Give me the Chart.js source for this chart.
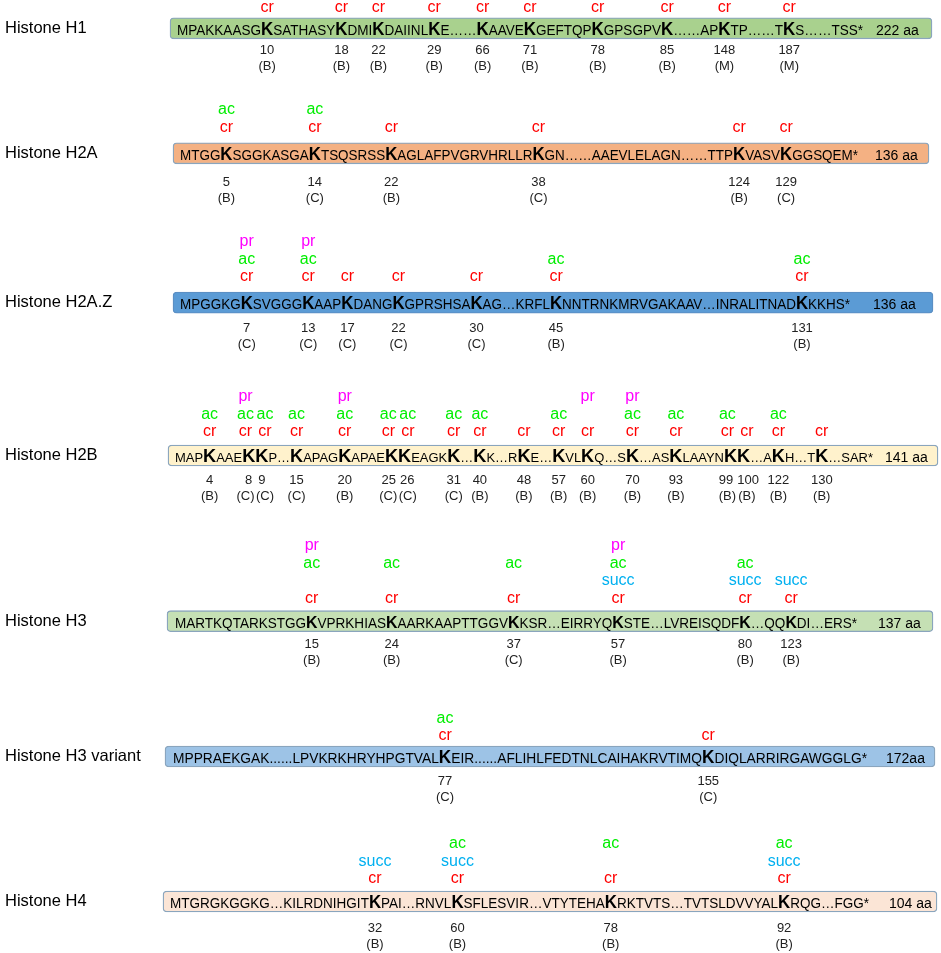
<!DOCTYPE html>
<html>
<head>
<meta charset="utf-8">
<script src="https://cdn.jsdelivr.net/npm/chart.js@4.4.1/dist/chart.umd.min.js"></script>
<style>
  html, body { margin: 0; padding: 0; background: #fff; }
  #wrap { width: 941px; height: 953px; position: relative; }
</style>
</head>
<body>
<div id="wrap"><canvas id="histoneChart"></canvas></div>
<script>
// Histone proteins and their lengths
const histoneNames = ["Histone H1", "Histone H2A", "Histone H2A.Z", "Histone H2B", "Histone H3", "Histone H3 variant", "Histone H4"];
const proteinLengths = ["222 aa", "136 aa", "136 aa", "141 aa", "137 aa", "172aa", "104 aa"];

// Sequences, "#" marks a modified lysine (drawn as a bold K)
const sequences = [
  "MPAKKAASG#SATHASY#DMI#DAIINL#E……#AAVE#GEFTQP#GPSGPV#……AP#TP……T#S……TSS*",
  "MTGG#SGGKASGA#TSQSRSS#AGLAFPVGRVHRLLR#GN……AAEVLELAGN……TTP#VASV#GGSQEM*",
  "MPGGKG#SVGGG#AAP#DANG#GPRSHSA#AG…KRFL#NNTRNKMRVGAKAAV…INRALITNAD#KKHS*",
  "MAP#AAE##P…#APAG#APAE##EAGK#…#K…R#E…#VL#Q…S#…AS#LAAYN##…A#H…T#…SAR*",
  "MARTKQTARKSTGG#VPRKHIAS#AARKAAPTTGGV#KSR…EIRRYQ#STE…LVREISQDF#…QQ#DI…ERS*",
  "MPPRAEKGAK......LPVKRKHRYHPGTVAL#EIR......AFLIHLFEDTNLCAIHAKRVTIMQ#DIQLARRIRGAWGGLG*",
  "MTGRGKGGKG…KILRDNIHGIT#PAI…RNVL#SFLESVIR…VTYTEHA#RKTVTS…TVTSLDVVYAL#RQG…FGG*",
];

// Lysine positions
const siteNumbers = [
  [10, 18, 22, 29, 66, 71, 78, 85, 148, 187],
  [5, 14, 22, 38, 124, 129],
  [7, 13, 17, 22, 30, 45, 131],
  [4, 8, 9, 15, 20, 25, 26, 31, 40, 48, 57, 60, 70, 93, 99, 100, 122, 130],
  [15, 24, 37, 57, 80, 123],
  [77, 155],
  [32, 60, 78, 92],
];

// Source letter under each position
const siteSources = [
  ["B", "B", "B", "B", "B", "B", "B", "B", "M", "M"],
  ["B", "C", "B", "C", "B", "C"],
  ["C", "C", "C", "C", "C", "B", "B"],
  ["B", "C", "C", "C", "B", "C", "C", "C", "B", "B", "B", "B", "B", "B", "B", "B", "B", "B"],
  ["B", "B", "C", "B", "B", "B"],
  ["C", "C"],
  ["B", "B", "B", "B"],
];

// Modifications found at each lysine
const siteMods = [
  ["cr", "cr", "cr", "cr", "cr", "cr", "cr", "cr", "cr", "cr"],
  ["cr ac", "cr ac", "cr", "cr", "cr", "cr"],
  ["cr ac pr", "cr ac pr", "cr", "cr", "cr", "cr ac", "cr ac"],
  ["cr ac", "cr ac pr", "cr ac", "cr ac", "cr ac pr", "cr ac", "cr ac", "cr ac", "cr ac",
   "cr", "cr ac", "cr pr", "cr ac pr", "cr ac", "cr ac", "cr", "cr ac", "cr"],
  ["cr ac pr", "cr ac", "cr ac", "cr succ ac pr", "cr succ ac", "cr succ"],
  ["cr ac", "cr"],
  ["cr succ", "cr succ ac", "cr ac", "cr succ ac"],
];

// ---- layout (page units, same as pixels) ----
const rowCenter = [28.3, 153.3, 302.6, 455.5, 621.2, 756.5, 901.5];
const boxLeft = [170, 173, 173, 168, 167, 165, 163];
const boxRight = [932, 929, 933, 938, 933, 935, 937];
const seqLeft = [177, 180, 180, 175, 175, 173, 170];
const seqRight = [863, 858, 850, 873, 857, 867, 869];
const lengthLeft = [876, 875, 873, 885, 878, 886, 889];
const regSize = [14, 14, 14, 12.5, 14.5, 14, 14];
const kSize = [17.5, 17.5, 17.5, 17.5, 17, 17.5, 17.5];
const modGap = [6, 11, 11, 9, 8, 6, 8];
const numGap = [12, 19, 15, 14, 13, 14, 16];
const BOX_H = 21;
const NAME_X = 5;
const SLOT_H = 17.5;
const LABEL_MIN_GAP = 19.5;

const boxFill = ["#a9d18e", "#f4b183", "#5b9bd5", "#fff2cc", "#c5e0b4", "#9dc3e6", "#fbe5d6"];
const boxLine = ["#8aa5bd", "#8aa5bd", "#5b8fc4", "#8aa5bd", "#8aa5bd", "#8aa5bd", "#8aa5bd"];
const modColors = { cr: "#ff0000", ac: "#00ee00", pr: "#ff00ff", succ: "#00b0f0" };

const FAMILY = "'Liberation Sans', Arial, sans-serif";

// push neighbouring labels apart so they do not collide
function spreadApart(xs, gapFor) {
  const out = xs.slice();
  for (let iter = 0; iter < 30; iter++) {
    for (let k = 0; k < out.length - 1; k++) {
      const gap = gapFor(k);
      const d = out[k + 1] - out[k];
      if (d < gap) {
        const shift = (gap - d) / 2;
        out[k] -= shift;
        out[k + 1] += shift;
      }
    }
  }
  return out;
}

const sequencePlugin = {
  id: "sequenceLabels",
  afterDatasetsDraw(chart) {
    const { ctx } = chart;
    const xs = chart.scales.x;
    const ys = chart.scales.y;

    histoneNames.forEach((name, i) => {
      const yc = ys.getPixelForValue(rowCenter[i]);
      const top = yc - BOX_H / 2;
      const bottom = yc + BOX_H / 2;

      ctx.save();
      // Row name
      ctx.fillStyle = "#000";
      ctx.font = "16.5px " + FAMILY;
      ctx.textAlign = "left";
      ctx.textBaseline = "middle";
      ctx.fillText(name, xs.getPixelForValue(NAME_X), yc);

      // Sequence with bold lysines, squeezed to fit the box
      const regFont = regSize[i] + "px " + FAMILY;
      const boldFont = "bold " + kSize[i] + "px " + FAMILY;
      const parts = sequences[i].split("#");
      ctx.font = boldFont;
      const kw = ctx.measureText("K").width;
      ctx.font = regFont;
      let total = 0;
      parts.forEach((p) => { total += ctx.measureText(p).width; });
      total += kw * (parts.length - 1);

      const x0 = xs.getPixelForValue(seqLeft[i]);
      const x1 = xs.getPixelForValue(seqRight[i]);
      const sx = (x1 - x0) / total;
      const base = yc + 6.5;
      const kCenters = [];

      ctx.textBaseline = "alphabetic";
      ctx.save();
      ctx.translate(x0, base);
      ctx.scale(sx, 1);
      let cx = 0;
      parts.forEach((p, j) => {
        ctx.font = regFont;
        ctx.fillText(p, cx, 0);
        cx += ctx.measureText(p).width;
        if (j < parts.length - 1) {
          ctx.font = boldFont;
          ctx.fillText("K", cx, 0);
          kCenters.push(x0 + (cx + kw / 2) * sx);
          cx += kw;
        }
      });
      ctx.restore();

      // Protein length
      ctx.font = "14px " + FAMILY;
      ctx.fillText(proteinLengths[i], xs.getPixelForValue(lengthLeft[i]), base);

      // Modification stacks, numbers and sources
      const hasSucc = siteMods[i].some((m) => m.includes("succ"));
      const slots = hasSucc ? ["cr", "succ", "ac", "pr"] : ["cr", "ac", "pr"];
      const modX = spreadApart(kCenters, () => LABEL_MIN_GAP);
      ctx.font = "13px " + FAMILY;
      const numW = siteNumbers[i].map((n) => ctx.measureText(String(n)).width);
      const numX = spreadApart(kCenters, (k) => (numW[k] + numW[k + 1]) / 2 + 4);

      ctx.textAlign = "center";
      siteNumbers[i].forEach((num, k) => {
        ctx.font = "16px " + FAMILY;
        ctx.textBaseline = "alphabetic";
        siteMods[i][k].split(" ").forEach((mod) => {
          const slot = slots.indexOf(mod);
          ctx.fillStyle = modColors[mod];
          ctx.fillText(mod, modX[k], top - modGap[i] - slot * SLOT_H);
        });
        ctx.fillStyle = "#222";
        ctx.font = "13px " + FAMILY;
        ctx.textBaseline = "middle";
        ctx.fillText(String(num), numX[k], bottom + numGap[i]);
        ctx.fillText("(" + siteSources[i][k] + ")", modX[k], bottom + numGap[i] + 16);
      });
      ctx.restore();
    });
  },
};

const canvas = document.getElementById("histoneChart");
new Chart(canvas.getContext("2d"), {
  type: "bar",
  data: {
    datasets: [
      {
        data: histoneNames.map((n, i) => ({ x: [boxLeft[i], boxRight[i]], y: rowCenter[i] })),
        backgroundColor: boxFill,
        borderColor: boxLine,
        borderWidth: 1.3,
        borderSkipped: false,
        borderRadius: 4,
        barThickness: BOX_H,
      },
    ],
  },
  options: {
    indexAxis: "y",
    responsive: true,
    maintainAspectRatio: false,
    animation: false,
    layout: { padding: 0 },
    plugins: {
      legend: { display: false },
      tooltip: { enabled: false },
    },
    scales: {
      x: { type: "linear", min: 0, max: 941, offset: false, display: false },
      y: { type: "linear", min: 0, max: 953, reverse: true, offset: false, display: false },
    },
  },
  plugins: [sequencePlugin],
});
</script>
</body>
</html>
